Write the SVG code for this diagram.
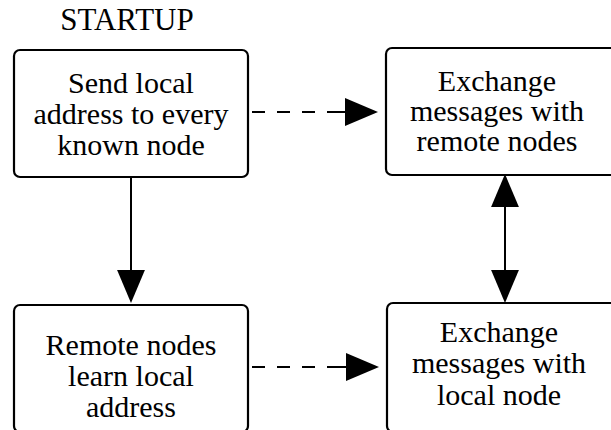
<svg xmlns="http://www.w3.org/2000/svg" width="611" height="430" viewBox="0 0 611 430">
<style>
.box{fill:#fff;stroke:#000;stroke-width:2.2}
.t{font-family:'Liberation Serif','Times New Roman','DejaVu Serif',serif;font-size:30px;fill:#000;text-anchor:middle}
.solid{stroke:#000;stroke-width:2;fill:none}
.dash{stroke:#000;stroke-width:2;fill:none;stroke-dasharray:13 12 13 12 13 12 22}
</style>
<defs>
<marker id="ah" markerUnits="userSpaceOnUse" markerWidth="34" markerHeight="30" refX="0" refY="14" orient="auto-start-reverse" viewBox="0 0 34 28">
<path d="M0,0 L33,14 L0,28 Z" fill="#000"/>
</marker>
<marker id="av" markerUnits="userSpaceOnUse" markerWidth="34" markerHeight="30" refX="0" refY="13.5" orient="auto-start-reverse" viewBox="0 0 33 27">
<path d="M0,0 L32,13.5 L0,27 Z" fill="#000"/>
</marker>
</defs>
<rect width="611" height="430" fill="#fff"/>
<text class="t" x="127" y="30" style="font-size:31px">STARTUP</text>
<g id="n1">
<rect class="box" x="14" y="50" width="234" height="127" rx="6"/>
<text class="t" x="131" y="93">Send local</text>
<text class="t" x="131" y="124">address to every</text>
<text class="t" x="131" y="155">known node</text>
</g>
<g id="n2">
<rect class="box" x="386" y="48" width="240" height="127" rx="6"/>
<text class="t" x="497" y="91">Exchange</text>
<text class="t" x="497" y="121">messages with</text>
<text class="t" x="497" y="151">remote nodes</text>
</g>
<g id="n3">
<rect class="box" x="14" y="305" width="234" height="127" rx="6"/>
<text class="t" x="131" y="355">Remote nodes</text>
<text class="t" x="131" y="386">learn local</text>
<text class="t" x="131" y="417">address</text>
</g>
<g id="n4">
<rect class="box" x="387" y="303" width="240" height="129" rx="6"/>
<text class="t" x="499" y="342">Exchange</text>
<text class="t" x="499" y="373">messages with</text>
<text class="t" x="499" y="405">local node</text>
</g>
<g id="connectors">
<path class="dash" d="M252,112 H345" marker-end="url(#ah)"/>
<path class="dash" d="M252,367 H346" marker-end="url(#ah)"/>
<path class="solid" d="M131,177 V270" marker-end="url(#av)"/>
<path class="solid" d="M505,207 V270" marker-start="url(#av)" marker-end="url(#av)"/>
</g>
</svg>
